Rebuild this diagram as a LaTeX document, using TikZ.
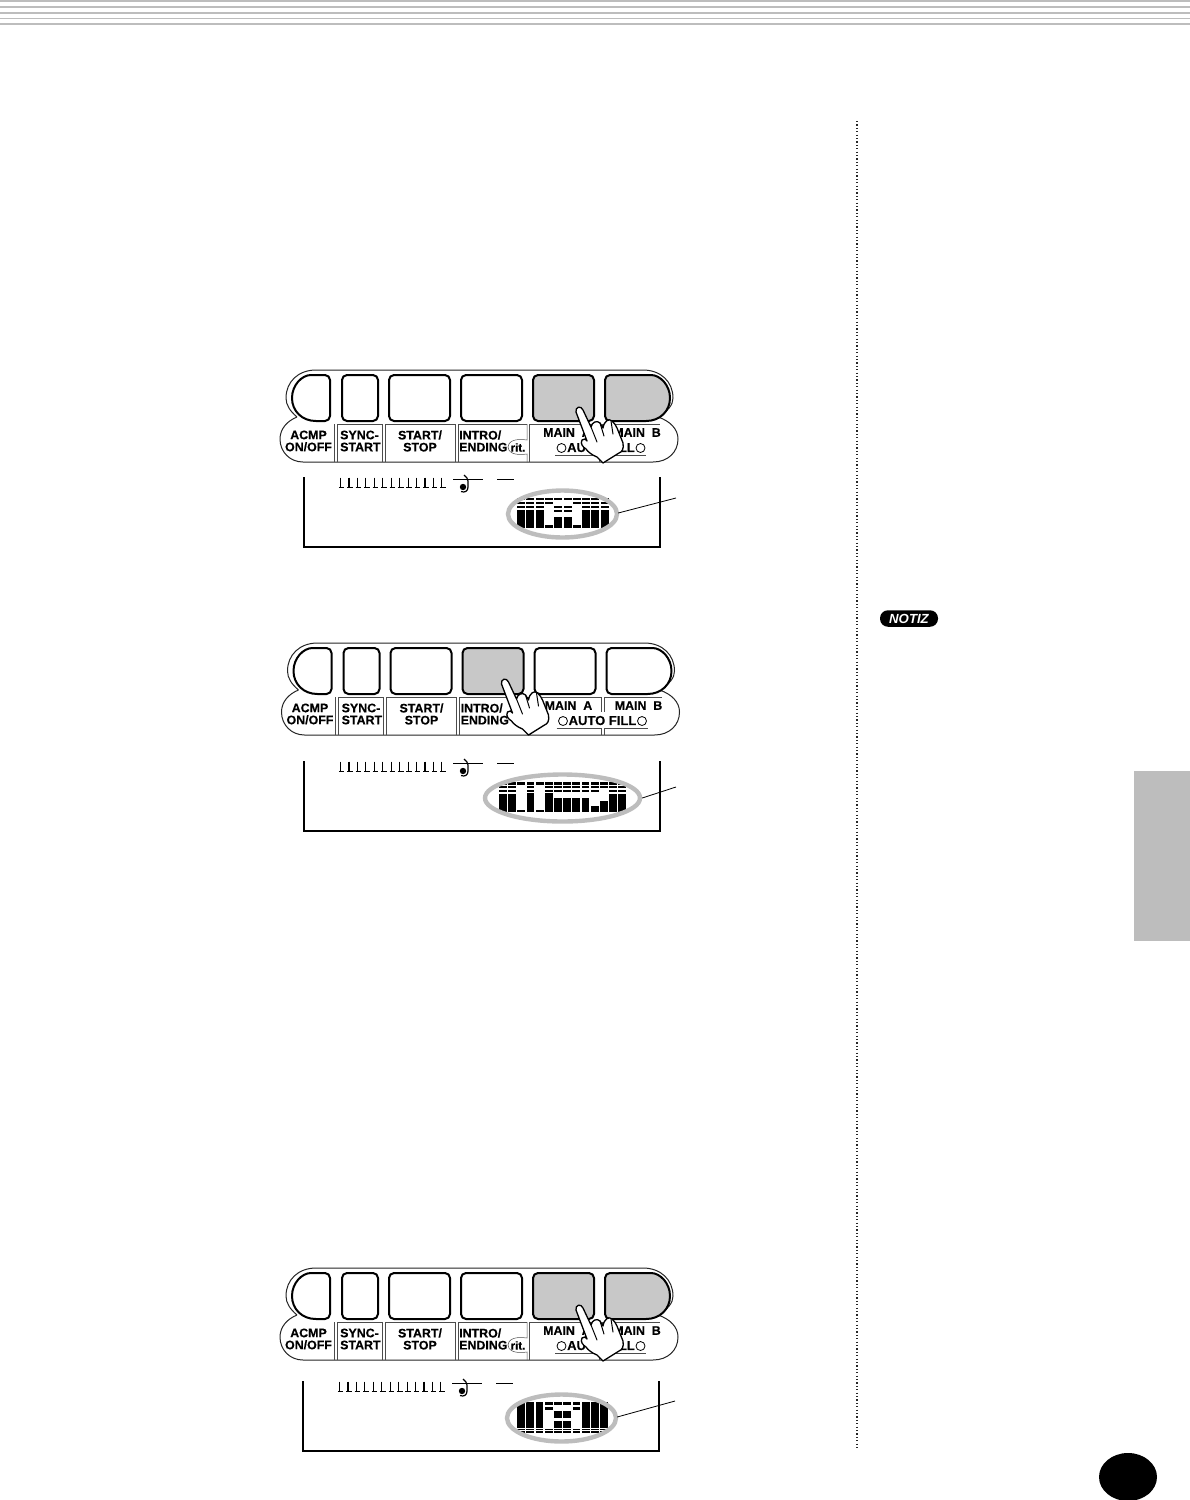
\documentclass[tikz,border=0pt]{standalone}
\usepackage{fontspec}
\setmainfont{Liberation Sans}
\newfontfamily\labfont[BoldFeatures={FakeBold=0.3}]{Liberation Sans}
\usetikzlibrary{shapes.geometric}
\definecolor{pagegray}{HTML}{BDBDBD}
\definecolor{btngray}{HTML}{C8C8C8}
\tikzset{
  btn/.style={line width=2pt,rounded corners=5pt,line join=round},
  hair/.style={line width=0.5pt,black!70},
  outline/.style={line width=1pt,black!85},
  lab/.style={inner sep=0pt,font=\fontsize{12.4}{12}\selectfont\labfont\bfseries,align=center},
  labl/.style={lab,align=left,anchor=west},
  disp/.style={line width=1.2pt},
  ovalring/.style={ellipse,draw=pagegray,line width=4.4pt,inner sep=0pt},
  leader/.style={line width=0.8pt},
  hand/.style={line width=1.3pt,line join=round,line cap=round},
}
\def\lcdF{0/2.3,3.7/5.9,7.7/10,12/30}
\def\lcdT{0/2.3,3.7/5.9,27/30}
\def\lcdU{0/2.3,27.5/30}
\def\lcdM{0/2.3,7.7/10,12/14,19/30}
\def\lcdK{0/2.3,3.7/5.9,7.7/10,11/30}
\def\lcdG{0/2.3,3.7/5.9,7.7/10,16/30}
\def\lcdH{0/2.3,3.7/5.9,7.7/10,24/30}
\def\lcdI{0/2.3,3.7/5.9,19/30}
\def\lcdS{0/25.5,26.7/28,29/31}
\def\lcdV{0/2.5,5/7.5,26.7/28,29/31}
\def\lcdW{0/2.5,9/15.5,19/25.5,26.7/28,29/31}
% x0, y0, pitch, list of letters
\newcommand{\lcdrow}[4]{%
  \foreach \k [count=\i from 0] in {#4}{%
    \expandafter\let\expandafter\curspec\csname lcd\k\endcsname
    \foreach \a/\b in \curspec{%
      \fill ({#1+\i*#3},{#2+\a}) rectangle ({#1+\i*#3+#3-1.3},{#2+\b});
    }%
  }%
}
% tag, fill of b4, fill of b5, fill of b6, rit flag(1/0)
\newcommand{\panelbase}[5]{%
  % outer outline
  \draw[outline] (297,417) .. controls (290,411) and (286,405) .. (286,398)
     .. controls (286,382) and (298,370) .. (316,370) -- (643,370)
     .. controls (661,370) and (673,382) .. (673,398)
     .. controls (673,405) and (668,411) .. (658,417)
     .. controls (670,421) and (678,429) .. (678,439)
     .. controls (678,452) and (668,462) .. (653,462) -- (303,462)
     .. controls (290,462) and (280,452) .. (280,439)
     .. controls (280,429) and (287,421) .. (297,417);
  % buttons
  \draw[btn] (330,398) -- (330,375) -- (316,375) [sharp corners] .. controls (302,375) and (292,385) .. (292,398)
     .. controls (292,411) and (302,421) .. (316,421) [rounded corners=5pt] -- (330,421) -- (330,398);
  \draw[btn] (342,375) rectangle (378,421);
  \draw[btn] (389,375) rectangle (450,421);
  \draw[btn,fill=#2] (461,375) rectangle (522,421);
  \draw[btn,fill=#3] (533,375) rectangle (594,421);
  \draw[btn,fill=#4] (605,398) -- (605,375) -- (646,375) [sharp corners] .. controls (660,375) and (670,385) .. (670,398)
     .. controls (670,411) and (660,421) .. (646,421) [rounded corners=5pt] -- (605,421) -- (605,398);
  % cell dividers
  \draw[hair] (334,424) -- (334,462) (337,424) -- (337,462)
     (382,424) -- (382,462) (385,424) -- (385,462)
     (455,424) -- (455,462) (458,424) -- (458,462)
     (337,424) -- (382,424) (385,424) -- (455,424) (458,424) -- (527,424)
     (529,424) -- (600,424) (603,424) -- (660,424)
     (599.5,424) -- (599.5,439) (602.5,424) -- (602.5,439)
     (599.5,455) -- (599.5,462) (602.5,455) -- (602.5,462)
     (555,455) -- (599.5,455) (602.5,455) -- (646,455);
  \ifnum#5=1
    \draw[hair] (527,424) -- (527,440) .. controls (514,438) and (508,442) .. (508,447)
       .. controls (508,452) and (514,456) .. (527,454) -- (527,462);
    \draw[hair] (529,424) -- (529,462);
    \node[lab,font=\fontsize{11.5}{11}\selectfont\labfont\bfseries] (rit#1) at (518,447.5) {rit.};
  \else
    \draw[hair] (529,424) -- (529,462) (527,424) -- (527,462);
  \fi
  % labels
  \node[lab] (acmp#1) at (308.5,441) {ACMP\\ON/OFF};
  \node[labl] (sync#1) at (340,441) {SYNC-\\START};
  \node[lab] (start#1) at (420,441) {START/\\STOP};
  \node[labl] (intro#1) at (459,441) {INTRO/\\ENDING};
  \node[lab,anchor=west] (maina#1) at (543,432.5) {MAIN\ \ A};
  \node[lab,anchor=east] (mainb#1) at (661,432.5) {MAIN\ \ B};
  \node[lab,font=\fontsize{13}{12}\selectfont\labfont\bfseries] (fill#1) at (601,447.5) {AUTO FILL};
  \node[circle,draw,line width=0.8pt,inner sep=0pt,minimum size=9pt] (cl#1) at (561.5,448) {};
  \node[circle,draw,line width=0.8pt,inner sep=0pt,minimum size=9pt] (cr#1) at (640.5,448) {};
}
% display: frame, ticks, note
\newcommand{\dispbase}{%
  \draw[disp] (304,477) -- (304,547) -- (660,547) -- (660,477);
  \foreach \i in {0,...,12}{%
    \draw[line width=1.1pt] ({340.5+8.45*\i},477.5) -- ({340.5+8.45*\i},487.5);
    \draw[line width=1.1pt] ({338.8+8.45*\i},487.5) -- ({344.4+8.45*\i},487.5);
  }
  \draw[line width=1pt] (453,479) -- (483,479);
  \draw[line width=1.2pt] (464,475) .. controls (466,477) and (468,478) .. (468,481) -- (468,487)
     .. controls (468,491) and (465,493) .. (461,491.5);
  \fill (463,487) circle (3.2pt);
  \draw[line width=1pt] (497,479) -- (514,479);
}
\newcommand{\thehand}{%
  \draw[hand,fill=white] (576,412) .. controls (575,407) and (581,405) .. (583,410)
     -- (591,427) .. controls (592,422) and (597,420) .. (600,423)
     -- (603,428) .. controls (604,421) and (609,418) .. (612,421)
     .. controls (614,423) and (616,425) .. (617,428)
     -- (623,443) .. controls (624,449) and (622,452) .. (619,453)
     -- (603,463) -- (597,457) .. controls (592,455) and (588,452) .. (586,449)
     .. controls (583,447) and (580,444) .. (582,440)
     .. controls (584,438) and (586,439) .. (587,441) -- cycle;
  \draw[hand,line width=1pt] (591,427) -- (597,442) (600,423) -- (604,436) (611,421) -- (613,434);
}
\begin{document}
\begin{tikzpicture}[x=1pt,y=-1pt]
\useasboundingbox (0,0) rectangle (1190,1500);
\fill[white] (0,0) rectangle (1190,1500);
% header stripes
\foreach \a/\b in {0/2,6/8,12.3/14,18/19,23/25}
  \fill[pagegray] (0,\a) rectangle (1190,\b);
% side tab, dotted rule, page disc
\fill[pagegray] (1134,771) rectangle (1190,941);
\draw[line width=1.2pt,dash pattern=on 1.2pt off 2.2pt,black!85] (857,121) -- (857,1450);
\fill[black] (1128,1477) ellipse (29pt and 24pt);
\node[fill=black,rounded corners=8pt,minimum width=58pt,minimum height=16.5pt,inner sep=0pt,text=white,
      font=\fontsize{13.2}{13}\selectfont\labfont\bfseries\itshape] (notiz) at (909,618.5) {NOTIZ};

% panel 1
\begin{scope}
  \panelbase{a}{white}{btngray}{btngray}{1}
  \thehand
  \dispbase
  \lcdrow{517}{498}{9.3}{F,F,F,T,M,M,T,F,F,F}
  \node[ovalring,minimum width=109pt,minimum height=47pt] (ovala) at (562.5,514) {};
  \coordinate (leada) at (676,498);
  \draw[leader] (ovala.east) ++(-1,-1) -- (leada);
\end{scope}

% panel 2
\begin{scope}[shift={(1.5,273)}]
  \panelbase{b}{btngray}{white}{white}{0}
  \begin{scope}[shift={(-76,-1)}]\thehand\end{scope}
\end{scope}
\begin{scope}[shift={(0,284)}]
  \dispbase
\end{scope}
\lcdrow{499}{782.3}{9.17}{F,F,U,K,U,K,G,G,G,G,H,I,F,F}
\node[ovalring,minimum width=155pt,minimum height=47pt] (ovalb) at (562.5,798) {};
\coordinate (leadb) at (676,787);
\draw[leader] (ovalb.east) -- (leadb);

% panel 3
\begin{scope}[shift={(0,898)}]
  \panelbase{c}{white}{btngray}{btngray}{1}
  \thehand
\end{scope}
\begin{scope}[shift={(-1,904)}]
  \dispbase
  \lcdrow{518}{498.3}{9.25}{S,S,S,V,W,W,V,S,S,S}
  \node[ovalring,minimum width=109pt,minimum height=47pt] (ovalc) at (562.5,514) {};
  \coordinate (leadc) at (676,497);
  \draw[leader] (ovalc.east) ++(-1,-1) -- (leadc);
\end{scope}
\end{tikzpicture}
\end{document}
